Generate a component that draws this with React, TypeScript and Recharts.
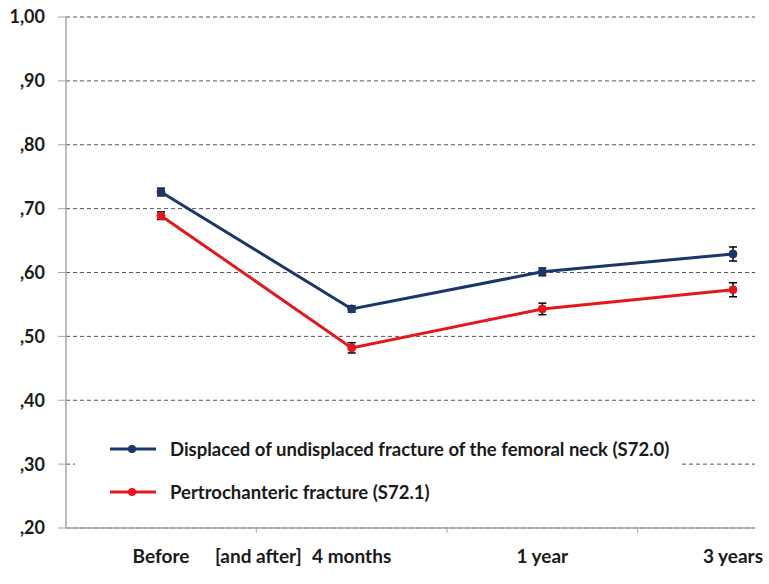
import React from 'react';
import { LineChart, Line, XAxis, YAxis, CartesianGrid, ErrorBar, Legend } from 'recharts';

const categories = ['Before', '[and after]  4 months', '1 year', '3 years'];
const femoralNeck = [0.726, 0.543, 0.601, 0.629];
const femoralNeckErr = [0.006, 0.005, 0.006, 0.011];
const pertrochanteric = [0.689, 0.482, 0.543, 0.573];
const pertrochantericErr = [0.006, 0.008, 0.009, 0.011];
const yTicks = [0.2, 0.3, 0.4, 0.5, 0.6, 0.7, 0.8, 0.9, 1.0];
const yTickLabels = [',20', ',30', ',40', ',50', ',60', ',70', ',80', ',90', '1,00'];
const seriesNames = [
  'Displaced of undisplaced fracture of the femoral neck (S72.0)',
  'Pertrochanteric fracture (S72.1)',
];
const seriesColors = ['#1B3668', '#E5171C'];

const data = categories.map((c, i) => ({
  name: c,
  neck: femoralNeck[i],
  neckErr: femoralNeckErr[i],
  per: pertrochanteric[i],
  perErr: pertrochantericErr[i],
}));

const FONT = "Lato, 'Open Sans', sans-serif";
const TEXT = '#1a1a1a';
const PAD_LEFT = 95;
const PAD_RIGHT = 22;

const XTick = (props: any) => {
  const { x, y, payload, index } = props;
  const count = props.visibleTicksCount ?? 4;
  const w = typeof props.width === 'number' ? props.width : 689;
  const step = (w - PAD_LEFT - PAD_RIGHT) / Math.max(count - 1, 1);
  const label: string = String(payload.value);
  let prefix = '';
  let main = label;
  const k = label.indexOf(']');
  if (k >= 0) {
    prefix = label.slice(0, k + 1);
    main = label.slice(k + 1).trim();
  }
  return (
    <g>
      {index < count - 1 && (
        <line x1={x + step / 2} x2={x + step / 2} y1={y} y2={y + 5} stroke="#a6a6a6" strokeWidth={1} />
      )}
      {prefix && (
        <text x={x - 50} y={y + 35} textAnchor="end" fill={TEXT} fontFamily={FONT} fontWeight={700} fontSize={19}>
          {prefix}
        </text>
      )}
      <text x={x} y={y + 35} textAnchor="middle" fill={TEXT} fontFamily={FONT} fontWeight={700} fontSize={19}>
        {main}
      </text>
    </g>
  );
};

const LegendContent = (props: any) => {
  const payload = props.payload || [];
  return (
    <div
      style={{
        background: '#fff',
        width: 605,
        height: 95,
        paddingTop: 12,
        boxSizing: 'border-box',
        fontFamily: FONT,
        fontWeight: 700,
        fontSize: 18.5,
        color: TEXT,
      }}
    >
      {payload.map((p: any, i: number) => (
        <div key={i} style={{ display: 'flex', alignItems: 'center', height: 43 }}>
          <svg width={46} height={12} style={{ marginLeft: 35, flex: 'none' }}>
            <line x1={0} x2={46} y1={6} y2={6} stroke={p.color} strokeWidth={3} />
            <circle cx={22} cy={6} r={4} fill={p.color} />
          </svg>
          <span style={{ marginLeft: 14, whiteSpace: 'nowrap' }}>{p.value}</span>
        </div>
      ))}
    </div>
  );
};

export default function App() {
  return (
    <div
      style={{
        position: 'absolute',
        left: 0,
        top: 0,
        width: 769,
        height: 584,
        overflow: 'hidden',
        background: '#fff',
      }}
    >
      <LineChart width={769} height={584} data={data} margin={{ top: 17, right: 14, left: 0, bottom: 0 }}>
        <CartesianGrid vertical={false} stroke="#555" strokeDasharray="4 3" />
        <XAxis
          dataKey="name"
          scale="point"
          padding={{ left: PAD_LEFT, right: PAD_RIGHT }}
          height={56}
          axisLine={{ stroke: '#a6a6a6', strokeWidth: 1.5 }}
          tickLine={false}
          tickSize={0}
          tickMargin={0}
          tick={<XTick />}
          interval={0}
        />
        <YAxis
          width={66}
          domain={[0.2, 1.0]}
          ticks={yTicks}
          interval={0}
          tickFormatter={(v: number, i: number) => yTickLabels[i]}
          axisLine={{ stroke: '#a6a6a6', strokeWidth: 1.5 }}
          tickLine={{ stroke: '#a6a6a6' }}
          tickSize={8}
          tickMargin={13}
          tick={{ fill: TEXT, fontFamily: FONT, fontWeight: 700, fontSize: 18 }}
        />
        <Legend
          layout="vertical"
          align="center"
          verticalAlign="middle"
          wrapperStyle={{ position: 'absolute', left: 75, top: 415, width: 605, height: 95 }}
          content={<LegendContent />}
        />
        <Line
          type="linear"
          dataKey="neck"
          name={seriesNames[0]}
          stroke={seriesColors[0]}
          strokeWidth={3}
          dot={{ r: 4, fill: seriesColors[0], stroke: seriesColors[0], strokeWidth: 1 }}
          activeDot={false}
          isAnimationActive={false}
        >
          <ErrorBar dataKey="neckErr" direction="y" stroke="#000" strokeWidth={1.5} width={4} isAnimationActive={false} />
        </Line>
        <Line
          type="linear"
          dataKey="per"
          name={seriesNames[1]}
          stroke={seriesColors[1]}
          strokeWidth={3}
          dot={{ r: 4, fill: seriesColors[1], stroke: seriesColors[1], strokeWidth: 1 }}
          activeDot={false}
          isAnimationActive={false}
        >
          <ErrorBar dataKey="perErr" direction="y" stroke="#000" strokeWidth={1.5} width={4} isAnimationActive={false} />
        </Line>
      </LineChart>
    </div>
  );
}
